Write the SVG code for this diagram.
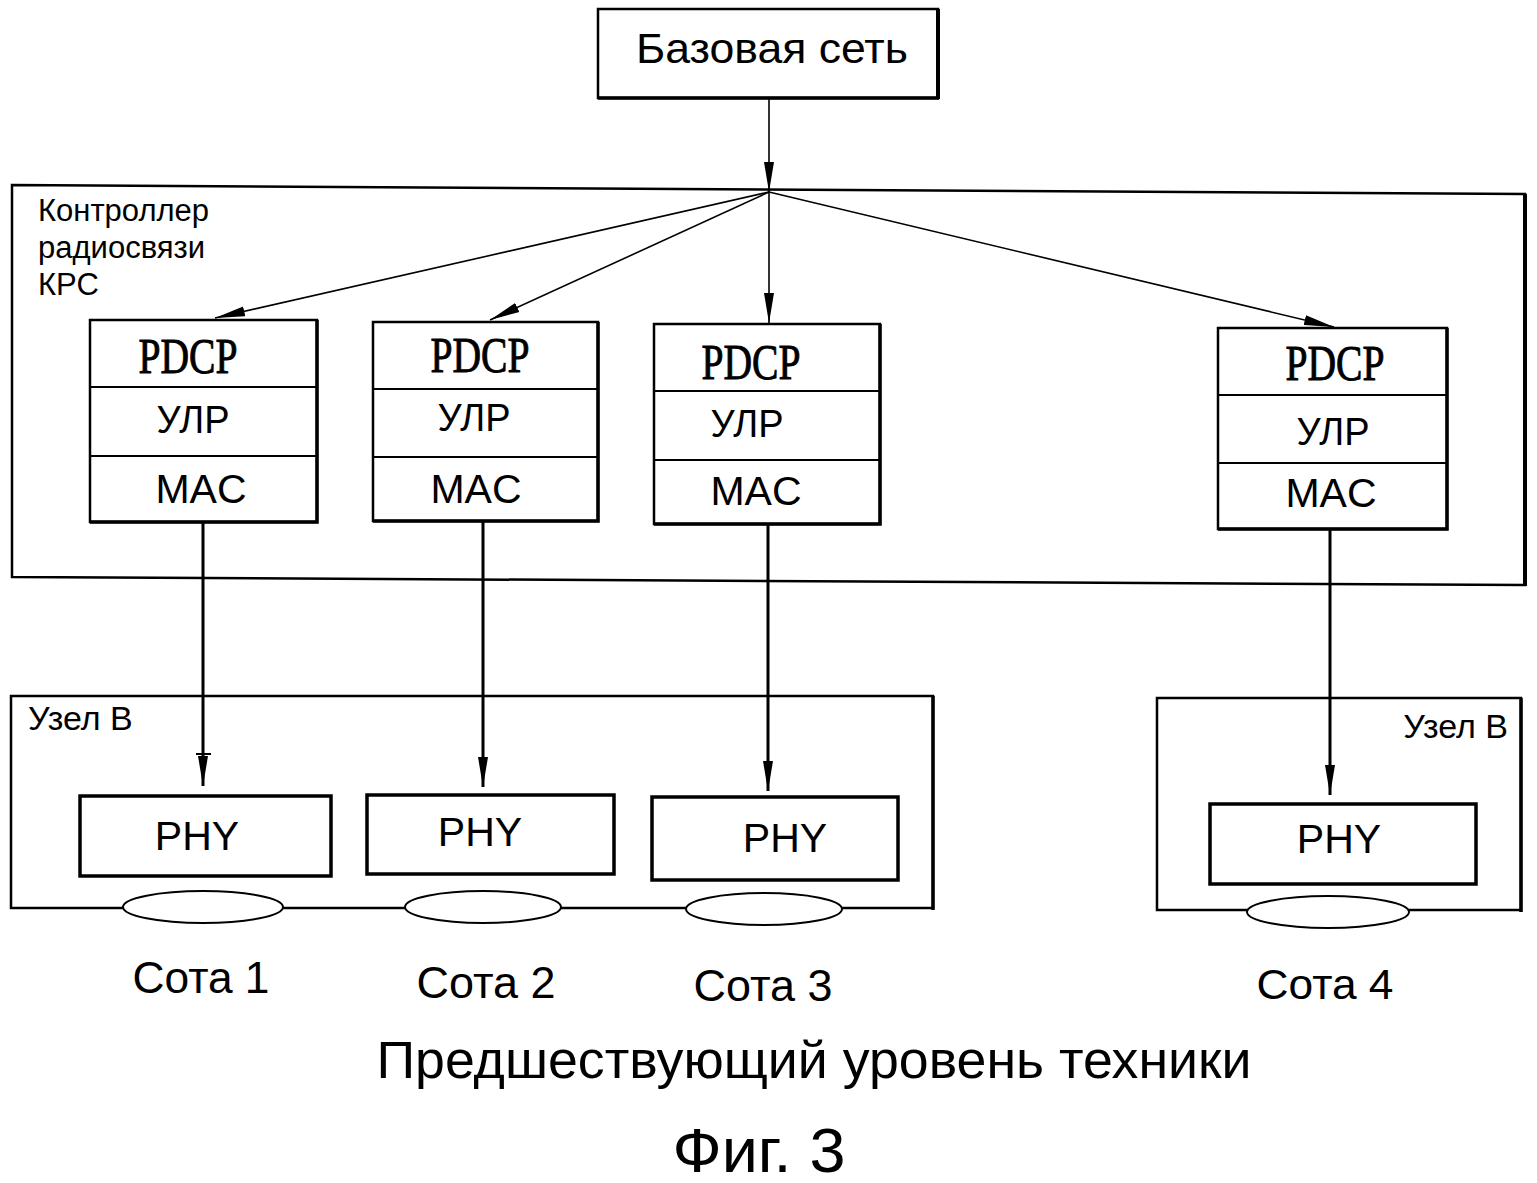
<svg xmlns="http://www.w3.org/2000/svg" width="1537" height="1183" viewBox="0 0 1537 1183">
<defs>
<style>
.box{fill:none;stroke:#000;stroke-width:2.5}
.thick{fill:none;stroke:#000;stroke-width:3.5}
.div{stroke:#000;stroke-width:2}
.sans{font-family:"Liberation Sans",Arial,sans-serif;fill:#000}
.serif{font-family:"Liberation Serif","Times New Roman",serif;fill:#000;stroke:#000;stroke-width:0.9}
.fan{stroke:#000;stroke-width:1.6;fill:none}
.down{stroke:#000;stroke-width:3;fill:none}
.cell{fill:#fff;stroke:#000;stroke-width:2}
</style>
<marker id="ah" markerUnits="userSpaceOnUse" markerWidth="32" markerHeight="12" refX="30" refY="6" orient="auto">
<path d="M0,1 L30,6 L0,11 Z" fill="#000"/>
</marker>
</defs>
<rect width="1537" height="1183" fill="#fff"/>

<g id="core">
<rect class="box" x="598" y="9" width="340" height="89"/>
<line x1="938" y1="9" x2="938" y2="99" stroke="#000" stroke-width="4"/>
<line x1="598" y1="98" x2="939" y2="98" stroke="#000" stroke-width="3.5"/>
<text class="sans" x="772" y="63" font-size="43" text-anchor="middle" textLength="272" lengthAdjust="spacingAndGlyphs">Базовая сеть</text>
</g>

<g id="rnc">
<path class="box" d="M12,185 L1525,194 L1525,585 L12,577 Z"/>
<line x1="1525" y1="194" x2="1525" y2="586" stroke="#000" stroke-width="4"/>
<text class="sans" font-size="31"><tspan x="38" y="221">Контроллер</tspan><tspan x="38" y="258">радиосвязи</tspan><tspan x="38" y="295">КРС</tspan></text>
</g>

<g id="stack1">
<rect class="box" x="90" y="320" width="227" height="202"/>
<path class="thick" d="M317,320 L317,522 L90,522"/>
<line class="div" x1="90" y1="387" x2="317" y2="387"/>
<line class="div" x1="90" y1="456" x2="317" y2="456"/>
<text class="serif" x="188" y="373" font-size="50" text-anchor="middle" textLength="99" lengthAdjust="spacingAndGlyphs">PDCP</text>
<text class="sans" x="193" y="433" font-size="38" text-anchor="middle">УЛР</text>
<text class="sans" x="201" y="503" font-size="41" text-anchor="middle">MAC</text>
</g>

<g id="stack2">
<rect class="box" x="373" y="322" width="225" height="199"/>
<path class="thick" d="M598,322 L598,521 L373,521"/>
<line class="div" x1="373" y1="389" x2="598" y2="389"/>
<line class="div" x1="373" y1="457" x2="598" y2="457"/>
<text class="serif" x="480" y="372" font-size="50" text-anchor="middle" textLength="99" lengthAdjust="spacingAndGlyphs">PDCP</text>
<text class="sans" x="474" y="431" font-size="38" text-anchor="middle">УЛР</text>
<text class="sans" x="476" y="503" font-size="41" text-anchor="middle">MAC</text>
</g>

<g id="stack3">
<rect class="box" x="654" y="324" width="226" height="200"/>
<path class="thick" d="M880,324 L880,524 L654,524"/>
<line class="div" x1="654" y1="391" x2="880" y2="391"/>
<line class="div" x1="654" y1="460" x2="880" y2="460"/>
<text class="serif" x="751" y="379" font-size="50" text-anchor="middle" textLength="99" lengthAdjust="spacingAndGlyphs">PDCP</text>
<text class="sans" x="747" y="437" font-size="38" text-anchor="middle">УЛР</text>
<text class="sans" x="756" y="505" font-size="41" text-anchor="middle">MAC</text>
</g>

<g id="stack4">
<rect class="box" x="1218" y="328" width="229" height="201"/>
<path class="thick" d="M1447,328 L1447,529 L1218,529"/>
<line class="div" x1="1218" y1="395" x2="1447" y2="395"/>
<line class="div" x1="1218" y1="463" x2="1447" y2="463"/>
<text class="serif" x="1335" y="380" font-size="50" text-anchor="middle" textLength="99" lengthAdjust="spacingAndGlyphs">PDCP</text>
<text class="sans" x="1333" y="445" font-size="38" text-anchor="middle">УЛР</text>
<text class="sans" x="1331" y="507" font-size="41" text-anchor="middle">MAC</text>
</g>

<g id="nodeB1">
<rect class="box" x="11" y="696" width="922" height="212"/>
<line x1="933" y1="696" x2="933" y2="910" stroke="#000" stroke-width="3.5"/>
<text class="sans" x="28" y="730" font-size="34">Узел В</text>
<g id="phy1"><rect class="thick" x="80" y="796" width="251" height="80"/><text class="sans" x="197" y="850" font-size="41" text-anchor="middle">PHY</text></g>
<g id="phy2"><rect class="thick" x="367" y="795" width="247" height="79"/><text class="sans" x="480" y="846" font-size="41" text-anchor="middle">PHY</text></g>
<g id="phy3"><rect class="thick" x="652" y="797" width="246" height="83"/><text class="sans" x="785" y="852" font-size="41" text-anchor="middle">PHY</text></g>
<ellipse id="cell1" class="cell" cx="203" cy="907" rx="80" ry="16"/>
<ellipse id="cell2" class="cell" cx="483" cy="907" rx="78" ry="16"/>
<ellipse id="cell3" class="cell" cx="764" cy="909" rx="78" ry="16"/>
</g>

<g id="nodeB2">
<rect class="box" x="1157" y="698" width="364" height="212"/>
<line x1="1521" y1="698" x2="1521" y2="912" stroke="#000" stroke-width="3.5"/>
<text class="sans" x="1508" y="738" font-size="34" text-anchor="end">Узел В</text>
<g id="phy4"><rect class="thick" x="1210" y="804" width="266" height="80"/><text class="sans" x="1339" y="853" font-size="41" text-anchor="middle">PHY</text></g>
<ellipse id="cell4" class="cell" cx="1328" cy="912" rx="81" ry="16"/>
</g>

<g id="connectors">
<line class="fan" x1="769" y1="98" x2="769" y2="192" stroke-width="2.2" marker-end="url(#ah)"/>
<line class="fan" x1="769" y1="192" x2="215" y2="318" marker-end="url(#ah)"/>
<line class="fan" x1="769" y1="192" x2="490" y2="320" marker-end="url(#ah)"/>
<line class="fan" x1="769" y1="192" x2="769" y2="323" marker-end="url(#ah)"/>
<line class="fan" x1="769" y1="192" x2="1334" y2="327" marker-end="url(#ah)"/>
<line class="down" x1="203" y1="522" x2="203" y2="786" marker-end="url(#ah)"/>
<line x1="196" y1="754" x2="211" y2="754" stroke="#000" stroke-width="2"/>
<line class="down" x1="483" y1="521" x2="483" y2="787" marker-end="url(#ah)"/>
<line class="down" x1="768" y1="524" x2="768" y2="791" marker-end="url(#ah)"/>
<line class="down" x1="1330" y1="529" x2="1330" y2="795" marker-end="url(#ah)"/>
</g>

<g id="labels">
<text class="sans" x="201" y="993" font-size="44" text-anchor="middle" textLength="137" lengthAdjust="spacingAndGlyphs">Сота 1</text>
<text class="sans" x="486" y="998" font-size="44" text-anchor="middle" textLength="139" lengthAdjust="spacingAndGlyphs">Сота 2</text>
<text class="sans" x="763" y="1001" font-size="44" text-anchor="middle" textLength="139" lengthAdjust="spacingAndGlyphs">Сота 3</text>
<text class="sans" x="1325" y="999" font-size="42" text-anchor="middle" textLength="137" lengthAdjust="spacingAndGlyphs">Сота 4</text>
<text class="sans" x="814" y="1078" font-size="51" text-anchor="middle" textLength="875" lengthAdjust="spacingAndGlyphs">Предшествующий уровень техники</text>
<text class="sans" x="759" y="1172" font-size="63" text-anchor="middle" textLength="173" lengthAdjust="spacingAndGlyphs">Фиг. 3</text>
</g>
</svg>
